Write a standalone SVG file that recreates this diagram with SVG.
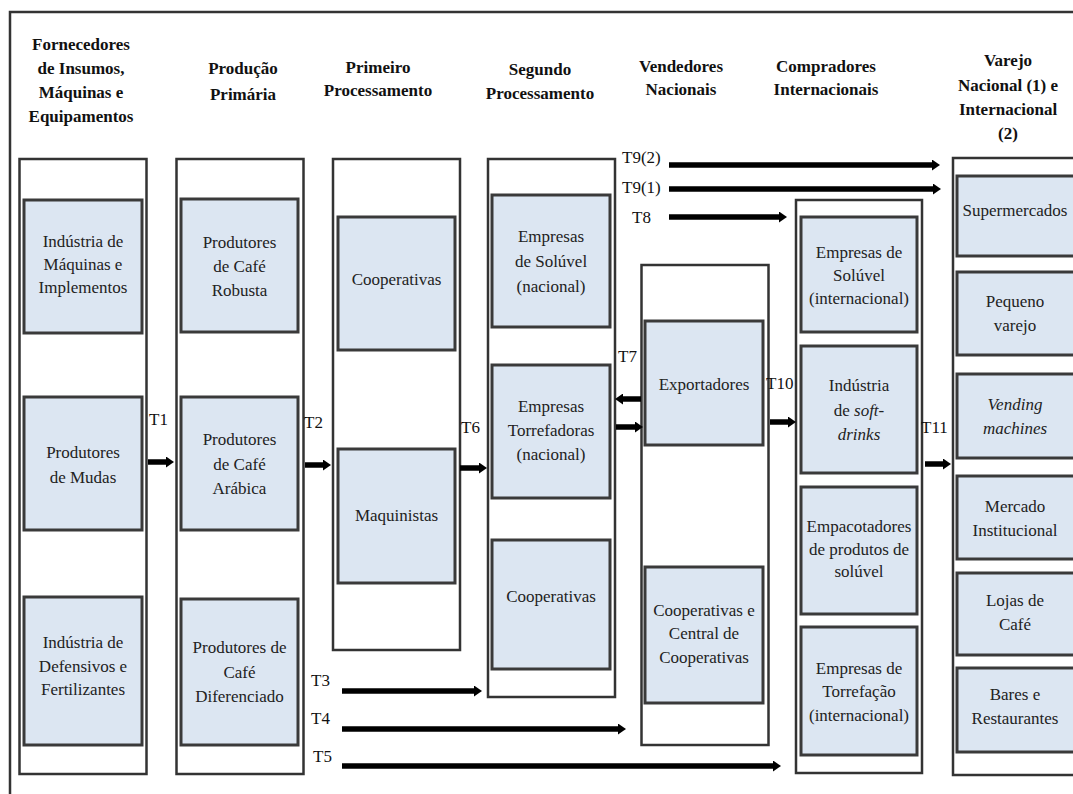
<svg xmlns="http://www.w3.org/2000/svg" width="1073" height="794" viewBox="0 0 1073 794">
<style>
.frame{fill:none;stroke:#333;stroke-width:2.5}
.col{fill:#fff;stroke:#333;stroke-width:2.5}
.box{fill:#dce6f2;stroke:#3a3a3a;stroke-width:3}
.h{font-family:"Liberation Serif",serif;font-weight:bold;font-size:17px;fill:#111;text-anchor:middle}
.t{font-family:"Liberation Serif",serif;font-size:17px;fill:#222;text-anchor:middle}
.lbl{font-family:"Liberation Serif",serif;font-size:17px;fill:#111}
.ar{stroke:#000;stroke-width:5.5;fill:none;marker-end:url(#ah)}
</style>
<defs>
<marker id="ah" markerUnits="userSpaceOnUse" markerWidth="8" markerHeight="11" refX="1" refY="5.5" orient="auto">
<path d="M0,0 L8,5.5 L0,11 z" fill="#000"/>
</marker>
</defs>
<rect width="1073" height="794" fill="#fff"/>
<path class="frame" d="M10,800 V12 H1080"/>

<g id="headers">
<text class="h" x="81" y="50">Fornecedores</text>
<text class="h" x="81" y="74">de Insumos,</text>
<text class="h" x="81" y="98">Máquinas e</text>
<text class="h" x="81" y="122">Equipamentos</text>
<text class="h" x="243" y="74">Produção</text>
<text class="h" x="243" y="100">Primária</text>
<text class="h" x="378" y="73">Primeiro</text>
<text class="h" x="378" y="96">Processamento</text>
<text class="h" x="540" y="75">Segundo</text>
<text class="h" x="540" y="99">Processamento</text>
<text class="h" x="681" y="72">Vendedores</text>
<text class="h" x="681" y="95">Nacionais</text>
<text class="h" x="826" y="72">Compradores</text>
<text class="h" x="826" y="95">Internacionais</text>
<text class="h" x="1008" y="66">Varejo</text>
<text class="h" x="1008" y="91">Nacional (1) e</text>
<text class="h" x="1008" y="115">Internacional</text>
<text class="h" x="1008" y="139">(2)</text>
</g>

<g id="fornecedores">
<rect class="col" x="19.5" y="159" width="127" height="615"/>
<g id="ind-maquinas"><rect class="box" x="24" y="200" width="118" height="133"/>
<text class="t" x="83" y="247">Indústria de</text><text class="t" x="83" y="270">Máquinas e</text><text class="t" x="83" y="293">Implementos</text></g>
<g id="prod-mudas"><rect class="box" x="24" y="397" width="118" height="133"/>
<text class="t" x="83" y="458">Produtores</text><text class="t" x="83" y="483">de Mudas</text></g>
<g id="ind-defensivos"><rect class="box" x="24" y="597" width="118" height="148"/>
<text class="t" x="83" y="648">Indústria de</text><text class="t" x="83" y="672">Defensivos e</text><text class="t" x="83" y="695">Fertilizantes</text></g>
</g>

<g id="producao">
<rect class="col" x="176.5" y="159" width="127" height="615"/>
<g id="robusta"><rect class="box" x="181" y="199" width="117" height="133"/>
<text class="t" x="239.5" y="248">Produtores</text><text class="t" x="239.5" y="272">de Café</text><text class="t" x="239.5" y="296">Robusta</text></g>
<g id="arabica"><rect class="box" x="181" y="397" width="117" height="133"/>
<text class="t" x="239.5" y="445">Produtores</text><text class="t" x="239.5" y="470">de Café</text><text class="t" x="239.5" y="494">Arábica</text></g>
<g id="diferenciado"><rect class="box" x="181" y="599" width="117" height="146"/>
<text class="t" x="239.5" y="653">Produtores de</text><text class="t" x="239.5" y="678">Café</text><text class="t" x="239.5" y="702">Diferenciado</text></g>
</g>

<g id="primeiro">
<rect class="col" x="333" y="159" width="127" height="491"/>
<g id="coop1"><rect class="box" x="338" y="217" width="117" height="133"/>
<text class="t" x="396.5" y="285">Cooperativas</text></g>
<g id="maquinistas"><rect class="box" x="338" y="449" width="117" height="134"/>
<text class="t" x="396.5" y="521">Maquinistas</text></g>
</g>

<g id="segundo">
<rect class="col" x="488" y="159" width="127" height="538"/>
<g id="solu-nac"><rect class="box" x="492" y="195" width="118" height="132"/>
<text class="t" x="551" y="242">Empresas</text><text class="t" x="551" y="267">de Solúvel</text><text class="t" x="551" y="292">(nacional)</text></g>
<g id="torref-nac"><rect class="box" x="492" y="365" width="118" height="133"/>
<text class="t" x="551" y="412">Empresas</text><text class="t" x="551" y="436">Torrefadoras</text><text class="t" x="551" y="460">(nacional)</text></g>
<g id="coop2"><rect class="box" x="492" y="540" width="118" height="129"/>
<text class="t" x="551" y="602">Cooperativas</text></g>
</g>

<g id="vendedores">
<rect class="col" x="641.5" y="265" width="127" height="480"/>
<g id="exportadores"><rect class="box" x="645" y="321" width="118" height="124"/>
<text class="t" x="704" y="390">Exportadores</text></g>
<g id="coop-central"><rect class="box" x="645" y="567" width="118" height="136"/>
<text class="t" x="704" y="616">Cooperativas e</text><text class="t" x="704" y="639">Central de</text><text class="t" x="704" y="663">Cooperativas</text></g>
</g>

<g id="compradores">
<rect class="col" x="796" y="200" width="126" height="573"/>
<g id="solu-int"><rect class="box" x="801" y="217" width="116" height="115"/>
<text class="t" x="859" y="258">Empresas de</text><text class="t" x="859" y="281">Solúvel</text><text class="t" x="859" y="304">(internacional)</text></g>
<g id="softdrinks"><rect class="box" x="801" y="346" width="116" height="127"/>
<text class="t" x="859" y="391">Indústria</text><text class="t" x="859" y="416">de <tspan font-style="italic">soft-</tspan></text><text class="t" x="859" y="440" font-style="italic">drinks</text></g>
<g id="empacotadores"><rect class="box" x="801" y="487" width="116" height="127"/>
<text class="t" x="859" y="532">Empacotadores</text><text class="t" x="859" y="555">de produtos de</text><text class="t" x="859" y="577">solúvel</text></g>
<g id="torref-int"><rect class="box" x="801" y="627" width="116" height="128"/>
<text class="t" x="859" y="674">Empresas de</text><text class="t" x="859" y="697">Torrefação</text><text class="t" x="859" y="721">(internacional)</text></g>
</g>

<g id="varejo">
<rect class="col" x="953" y="158" width="130" height="617"/>
<g id="supermercados"><rect class="box" x="957" y="176" width="118" height="80"/>
<text class="t" x="1015" y="216" font-size="15.5">Supermercados</text></g>
<g id="pequeno"><rect class="box" x="957" y="272" width="118" height="83"/>
<text class="t" x="1015" y="307">Pequeno</text><text class="t" x="1015" y="331">varejo</text></g>
<g id="vending"><rect class="box" x="957" y="374" width="118" height="84"/>
<text class="t" x="1015" y="410" font-style="italic">Vending</text><text class="t" x="1015" y="434" font-style="italic">machines</text></g>
<g id="institucional"><rect class="box" x="957" y="476" width="118" height="83"/>
<text class="t" x="1015" y="512">Mercado</text><text class="t" x="1015" y="536">Institucional</text></g>
<g id="lojas"><rect class="box" x="957" y="573" width="118" height="82"/>
<text class="t" x="1015" y="606">Lojas de</text><text class="t" x="1015" y="630">Café</text></g>
<g id="bares"><rect class="box" x="957" y="668" width="118" height="84"/>
<text class="t" x="1015" y="700">Bares e</text><text class="t" x="1015" y="724">Restaurantes</text></g>
</g>

<g id="connectors">
<line class="ar" x1="148" y1="462" x2="167" y2="462"/>
<line class="ar" x1="305" y1="465" x2="324" y2="465"/>
<line class="ar" x1="460" y1="468" x2="480" y2="468"/>
<line class="ar" x1="641" y1="399" x2="622" y2="399"/>
<line class="ar" x1="616" y1="427" x2="636" y2="427"/>
<line class="ar" x1="770" y1="422" x2="789" y2="422"/>
<line class="ar" x1="925" y1="464" x2="944" y2="464"/>
<line class="ar" x1="669" y1="165" x2="933" y2="165"/>
<line class="ar" x1="669" y1="189" x2="934" y2="189"/>
<line class="ar" x1="669" y1="217" x2="780" y2="217"/>
<line class="ar" x1="342" y1="691" x2="475" y2="691"/>
<line class="ar" x1="342" y1="729" x2="619" y2="729"/>
<line class="ar" x1="342" y1="766" x2="774" y2="766"/>
<text class="lbl" x="149" y="425">T1</text>
<text class="lbl" x="304" y="428">T2</text>
<text class="lbl" x="461" y="433">T6</text>
<text class="lbl" x="618" y="362">T7</text>
<text class="lbl" x="766" y="389">T10</text>
<text class="lbl" x="921" y="433">T11</text>
<text class="lbl" x="622" y="163">T9(2)</text>
<text class="lbl" x="622" y="193">T9(1)</text>
<text class="lbl" x="632" y="223">T8</text>
<text class="lbl" x="311" y="686">T3</text>
<text class="lbl" x="311" y="724">T4</text>
<text class="lbl" x="313" y="762">T5</text>
</g>
</svg>
